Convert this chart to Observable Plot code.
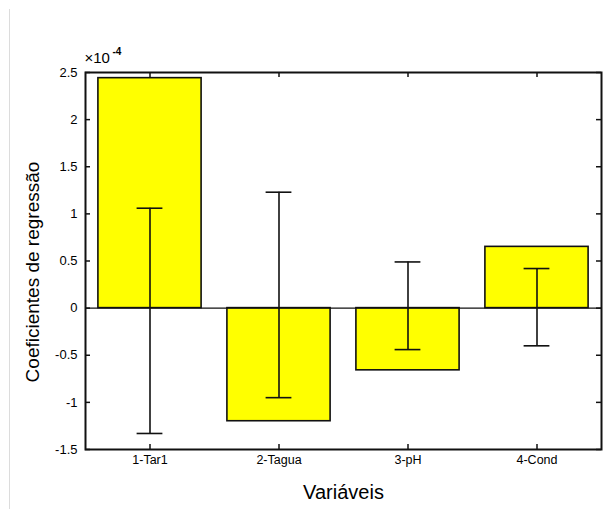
<!DOCTYPE html>
<html>
<head>
<meta charset="utf-8">
<script src="https://cdn.jsdelivr.net/npm/d3@7"></script>
<script src="https://cdn.jsdelivr.net/npm/@observablehq/plot@0.6"></script>
<style>
  html, body { margin: 0; padding: 0; background: #fff; }
  #wrap { position: relative; width: 613px; height: 509px; }
  #edge { position: absolute; left: 9px; top: 9px; width: 1px; height: 500px; background: #dcdcdc; }
</style>
</head>
<body>
<div id="wrap"><div id="edge"></div></div>
<script>
const categories = ["1-Tar1", "2-Tagua", "3-pH", "4-Cond"];
const coefficients = [2.44, -1.20, -0.66, 0.65];
const errLow = [-1.33, -0.95, -0.44, -0.40];
const errHigh = [1.06, 1.23, 0.49, 0.42];
const yTicks = [-1.5, -1, -0.5, 0, 0.5, 1, 1.5, 2, 2.5];
const exponentBase = "×10";
const exponentPower = "-4";
const xTitle = "Variáveis";
const yTitle = "Coeficientes de regressão";

const data = categories.map((c, i) => ({
  cat: c, pos: i + 1, value: coefficients[i], lo: errLow[i], hi: errHigh[i]
}));
const xTicks = data.map(d => d.pos);

const W = 613, H = 509;
const mL = 85, mR = 12, mT = 72, mB = 60;
const plotW = W - mL - mR, plotH = H - mT - mB;
const tick = 5;
const barHalf = 0.4, capHalf = 0.1;
const font = "'Liberation Sans', Arial, Helvetica, sans-serif";

const chart = Plot.plot({
  width: W, height: H,
  marginLeft: mL, marginRight: mR, marginTop: mT, marginBottom: mB,
  style: { fontFamily: font, background: "transparent", color: "#000" },
  x: { type: "linear", domain: [0.5, 4.5] },
  y: { type: "linear", domain: [-1.5, 2.5] },
  marks: [
    Plot.rect(data, {
      x1: d => d.pos - barHalf, x2: d => d.pos + barHalf,
      y1: 0, y2: "value",
      fill: "#ffff00", stroke: "#111", strokeWidth: 1.6
    }),
    Plot.ruleY([0], { stroke: "#111", strokeWidth: 1.2 }),
    Plot.ruleX(data, { x: "pos", y1: "lo", y2: "hi", stroke: "#111", strokeWidth: 1.6 }),
    Plot.ruleY(data, { y: "lo", x1: d => d.pos - capHalf, x2: d => d.pos + capHalf, stroke: "#111", strokeWidth: 1.6 }),
    Plot.ruleY(data, { y: "hi", x1: d => d.pos - capHalf, x2: d => d.pos + capHalf, stroke: "#111", strokeWidth: 1.6 }),
    // inward ticks
    Plot.ruleY(yTicks, { y: d => d, insetRight: plotW - tick, stroke: "#111", strokeWidth: 1.5 }),
    Plot.ruleY(yTicks, { y: d => d, insetLeft: plotW - tick, stroke: "#111", strokeWidth: 1.5 }),
    Plot.ruleX(xTicks, { x: d => d, insetTop: plotH - tick, stroke: "#111", strokeWidth: 1.5 }),
    Plot.ruleX(xTicks, { x: d => d, insetBottom: plotH - tick, stroke: "#111", strokeWidth: 1.5 }),
    Plot.frame({ stroke: "#111", strokeWidth: 2 }),
    Plot.axisY({
      ticks: yTicks, tickSize: 0, tickPadding: 8, tickFormat: d => String(d),
      fontSize: 13, label: null
    }),
    Plot.axisX({
      ticks: xTicks, tickSize: 0, tickPadding: 6, tickFormat: d => categories[d - 1],
      fontSize: 12.5, label: null
    }),
    Plot.text([xTitle], {
      text: d => d, frameAnchor: "bottom", lineAnchor: "middle", textAnchor: "middle",
      dy: 43, fontSize: 20, fill: "#000"
    }),
    Plot.text([yTitle], {
      text: d => d, frameAnchor: "left", textAnchor: "middle", lineAnchor: "middle",
      dx: -53, dy: 11, rotate: -90, fontSize: 19, fill: "#000"
    }),
    Plot.text([exponentBase], {
      text: d => d, frameAnchor: "top-left", textAnchor: "start", lineAnchor: "middle",
      dx: -1, dy: -14, fontSize: 15, fill: "#000"
    }),
    Plot.text([exponentPower], {
      text: d => d, frameAnchor: "top-left", textAnchor: "start", lineAnchor: "middle",
      dx: 27, dy: -21, fontSize: 10, fontWeight: "bold", fill: "#000"
    })
  ]
});
document.getElementById("wrap").appendChild(chart);
chart.style.position = "absolute";
chart.style.left = "0";
chart.style.top = "0";
</script>
</body>
</html>
